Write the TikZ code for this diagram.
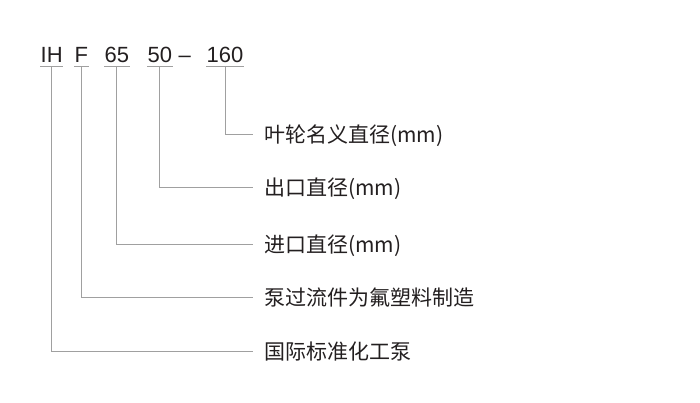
\documentclass[tikz,border=0pt]{standalone}
\usepackage{fontspec}
\setmainfont{Liberation Sans}
\newfontfamily\cjk{Noto Sans CJK SC}
\usetikzlibrary{positioning}

\definecolor{leadgray}{RGB}{160,160,160}
\definecolor{inkgray}{RGB}{35,31,32}

\tikzset{
  code/.style={anchor=base west, inner xsep=0.5pt, inner ysep=4pt, text=inkgray,
    font=\fontsize{22}{22}\selectfont},
  meaning/.style={anchor=west, inner xsep=11pt, inner ysep=0pt, text=inkgray,
    text height=16pt, text depth=0pt, font=\cjk\fontsize{21}{21}\selectfont},
  lead/.style={draw=leadgray, line width=1pt}
}

\begin{document}
\begin{tikzpicture}[x=1pt,y=-1pt]
\useasboundingbox (0,0) rectangle (700,403);

% model code
\node[code] (ih) at (40,62.5) {IH};
\node[code] (f) at (74,62.5) {F};
\node[code] (inlet) at (104,62.5) {65};
\node[code] (outlet) at (147,62.5) {50};
\node[code] (dash) at (178,62.5) {–};
\node[code] (impeller) at (206,62.5) {160};

% meanings
\node[meaning] (m1) at (253,135) {叶轮名义直径(mm)};
\node[meaning] (m2) at (253,187.3) {出口直径(mm)};
\node[meaning] (m3) at (253,244.3) {进口直径(mm)};
\node[meaning] (m4) at (253,297.7) {泵过流件为氟塑料制造};
\node[meaning] (m5) at (253,351.7) {国际标准化工泵};

% leaders
\draw[lead] (impeller.south west) -- (impeller.south east);
\draw[lead] (impeller.south) |- (m1.west);
\draw[lead] (outlet.south west) -- (outlet.south east);
\draw[lead] (outlet.south) |- (m2.west);
\draw[lead] (inlet.south west) -- (inlet.south east);
\draw[lead] (inlet.south) |- (m3.west);
\draw[lead] (f.south west) -- (f.south east);
\draw[lead] (f.south) |- (m4.west);
\draw[lead] (ih.south west) -- (ih.south east);
\draw[lead] (ih.south) |- (m5.west);
\end{tikzpicture}
\end{document}
